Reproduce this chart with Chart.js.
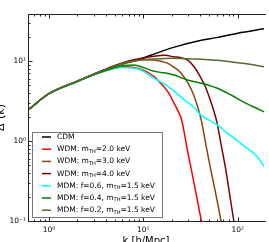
<!DOCTYPE html>
<html><head><meta charset="utf-8">
<script src="https://cdn.jsdelivr.net/npm/chart.js@4.4.1/dist/chart.umd.min.js"></script>
<style>html,body{margin:0;padding:0;background:#fff;overflow:hidden}#wrap{width:269px;height:242px;position:relative}</style>
</head><body><div id="wrap"><canvas id="c" width="269" height="242"></canvas></div>
<script>
// ---- data ----
const kCDM  = [0.6, 1, 2, 3.4, 6.2, 8, 12, 20.5, 38, 60, 100, 190];
const vCDM  = [2.44, 3.9, 5.6, 7.3, 9.4, 10.0, 11.8, 14.7, 17.8, 19.6, 22.3, 25.3];

const kWDM2 = [0.6, 1, 2, 3.4, 5, 6.2, 8, 10, 13, 15, 18, 20.5, 23, 25.5, 27.4, 29, 32.4, 36.5, 41.2, 46];
const vWDM2 = [2.44, 3.9, 5.55, 7.15, 8.1, 8.45, 8.3, 7.7, 6.4, 5.4, 4.2, 3.2, 2.45, 1.83, 1.2, 0.82, 0.43, 0.21, 0.1, 0.05];

const kWDM3 = [0.6, 1, 2, 3.4, 5, 7, 10, 13, 18, 21, 25, 30, 35, 41, 46, 52, 59, 66.5, 73];
const vWDM3 = [2.44, 3.9, 5.6, 7.25, 8.6, 9.6, 10.4, 10.3, 9.4, 8.4, 7.1, 5.2, 3.5, 1.85, 0.9, 0.43, 0.21, 0.1, 0.05];

const kWDM4 = [0.6, 1, 2, 3.4, 5, 7, 10, 13, 17, 21, 25, 29.4, 35, 40, 45, 51, 56, 60, 67, 75, 83, 91, 100];
const vWDM4 = [2.44, 3.9, 5.6, 7.3, 8.8, 10, 10.9, 11.5, 11.8, 11.3, 11.0, 10.3, 8.3, 6.4, 4.9, 3.3, 2.35, 1.75, 0.88, 0.43, 0.2, 0.1, 0.05];

const kMDM6 = [0.6, 1, 2, 3.4, 5, 6.2, 9, 12.7, 18, 20.5, 27.4, 34.8, 40, 48.7, 60, 75, 107, 162, 190];
const vMDM6 = [2.44, 3.9, 5.55, 7.1, 8.1, 8.3, 7.9, 6.2, 4.9, 4.35, 3.25, 2.6, 2.15, 1.85, 1.6, 1.3, 0.94, 0.63, 0.48];

const kMDM4 = [0.6, 1, 2, 3.4, 5, 6.2, 8, 10, 12.7, 15.4, 18.2, 22, 25.5, 30, 40, 50, 60, 85, 120, 160, 190];
const vMDM4 = [2.44, 3.9, 5.55, 7.1, 8.3, 8.8, 8.9, 8.3, 7.5, 7.2, 7.0, 6.6, 6.15, 5.75, 5.3, 4.95, 4.6, 3.76, 3.0, 2.55, 2.32];

const kMDM2 = [0.6, 1, 2, 3.4, 5, 7, 10, 15, 20, 30, 40, 60, 100, 150, 190];
const vMDM2 = [2.44, 3.9, 5.6, 7.3, 8.7, 9.8, 10.4, 10.7, 10.8, 10.7, 10.5, 10.2, 9.5, 8.9, 8.45];

const seriesLabels = ['CDM', 'WDM: m_{TH}=2.0 keV', 'WDM: m_{TH}=3.0 keV', 'WDM: m_{TH}=4.0 keV',
  'MDM: f=0.6, m_{TH}=1.5 keV', 'MDM: f=0.4, m_{TH}=1.5 keV', 'MDM: f=0.2, m_{TH}=1.5 keV'];
const seriesK = [kCDM, kWDM2, kWDM3, kWDM4, kMDM6, kMDM4, kMDM2];
const seriesV = [vCDM, vWDM2, vWDM3, vWDM4, vMDM6, vMDM4, vMDM2];
const seriesColors = ['#000000', '#ff0000', '#8b4513', '#800000', '#00ffff', '#008000', '#556b2f'];

const xTickValues = [1, 10, 100];
const xTickLabels = ['10\u2070', '10\u00b9', '10\u00b2'];
const yTickValues = [0.1, 1, 10];
const yTickLabels = ['10\u207b\u00b9', '10\u2070', '10\u00b9'];

const FONT = "'DejaVu Sans', sans-serif";

function tickLabel(values, labels) {
  return function (v) {
    for (let i = 0; i < values.length; i++) {
      if (Math.abs(v - values[i]) / values[i] < 1e-6) return labels[i];
    }
    return '';
  };
}

const n = seriesLabels.length;
const datasets = seriesLabels.map((lab, i) => ({
  label: lab,
  data: seriesK[i].map((k, j) => ({ x: k, y: seriesV[i][j] })),
  borderColor: seriesColors[i],
  backgroundColor: seriesColors[i],
  borderWidth: 1.5,
  pointRadius: 0,
  fill: false,
  cubicInterpolationMode: 'monotone',
  order: n - i
}));

const framePlugin = {
  id: 'frame',
  afterDatasetsDraw(chart) {
    const { ctx, chartArea: a, scales: { x, y } } = chart;
    ctx.save();
    ctx.strokeStyle = '#222';
    ctx.lineWidth = 1;
    ctx.beginPath();
    const L = a.left + 0.5, T = a.top + 0.5, B = a.bottom + 0.5;
    ctx.moveTo(L, B); ctx.lineTo(L, T); ctx.lineTo(a.right + 2, T);
    ctx.moveTo(L, B); ctx.lineTo(a.right + 2, B);
    for (let e = -2; e <= 3; e++) {
      for (let m = 1; m <= 9; m++) {
        const v = m * Math.pow(10, e);
        const len = m === 1 ? 4 : 2;
        if (v >= x.min * 0.999 && v <= x.max * 1.001) {
          const px = Math.round(x.getPixelForValue(v)) + 0.5;
          ctx.moveTo(px, B); ctx.lineTo(px, B - len);
          ctx.moveTo(px, T); ctx.lineTo(px, T + len);
        }
        if (v >= y.min * 0.999 && v <= y.max * 1.001) {
          const py = Math.round(y.getPixelForValue(v)) + 0.5;
          ctx.moveTo(L, py); ctx.lineTo(L + len, py);
        }
      }
    }
    ctx.stroke();
    ctx.restore();
  }
};

function drawRich(ctx, text, x, y, size) {
  const parts = text.split(/(_\{[^}]*\})/);
  let cx = x;
  for (const p of parts) {
    if (!p) continue;
    if (p.startsWith('_{')) {
      const s = p.slice(2, -1);
      ctx.font = (size * 0.68) + 'px ' + FONT;
      ctx.fillText(s, cx, y + size * 0.28);
      cx += ctx.measureText(s).width;
    } else {
      ctx.font = size + 'px ' + FONT;
      ctx.fillText(p, cx, y);
      cx += ctx.measureText(p).width;
    }
  }
}

const legendPlugin = {
  id: 'boxLegend',
  afterDraw(chart) {
    const { ctx, chartArea: a } = chart;
    const bx = a.left + 4, by = a.bottom - 89, bw = 130, bh = 85;
    ctx.save();
    ctx.fillStyle = '#fff';
    ctx.fillRect(bx, by, bw, bh);
    ctx.strokeStyle = '#777';
    ctx.lineWidth = 1;
    ctx.strokeRect(bx + 0.5, by + 0.5, bw, bh);
    ctx.textBaseline = 'middle';
    chart.data.datasets.forEach((ds, i) => {
      const yy = by + 5 + i * 12.2;
      ctx.strokeStyle = ds.borderColor;
      ctx.lineWidth = 1.5;
      ctx.beginPath();
      ctx.moveTo(bx + 10, yy); ctx.lineTo(bx + 19, yy);
      ctx.stroke();
      ctx.fillStyle = '#000';
      drawRich(ctx, ds.label, bx + 25, yy, 7.5);
    });
    ctx.restore();
  }
};

new Chart(document.getElementById('c'), {
  type: 'line',
  data: { datasets },
  plugins: [framePlugin, legendPlugin],
  options: {
    responsive: false,
    animation: false,
    devicePixelRatio: 1,
    layout: { padding: { top: 14, right: 0, left: 0, bottom: 0 } },
    plugins: { legend: { display: false }, tooltip: { enabled: false } },
    scales: {
      x: {
        type: 'logarithmic', min: 0.6, max: 190,
        grid: { display: false, drawTicks: false },
        border: { display: false },
        ticks: { autoSkip: false, maxRotation: 0, padding: 5, color: '#000',
          font: { family: FONT, size: 7.5 }, callback: tickLabel(xTickValues, xTickLabels) },
        title: { display: true, text: 'k [h/Mpc]', color: '#000',
          font: { family: FONT, size: 10 }, padding: { top: 0, bottom: -5 } },
        afterFit(s) { s.height = 21; }
      },
      y: {
        type: 'logarithmic', min: 0.1, max: 38.7,
        grid: { display: false, drawTicks: false },
        border: { display: false },
        ticks: { autoSkip: false, padding: 2, color: '#000',
          font: { family: FONT, size: 7.5 }, callback: tickLabel(yTickValues, yTickLabels) },
        title: { display: true, text: '\u0394\u00b2(k)', color: '#000',
          font: { family: FONT, size: 11 }, padding: { top: -5, bottom: 0 } },
        afterFit(s) { s.width = 28; }
      }
    }
  }
});
</script></body></html>
